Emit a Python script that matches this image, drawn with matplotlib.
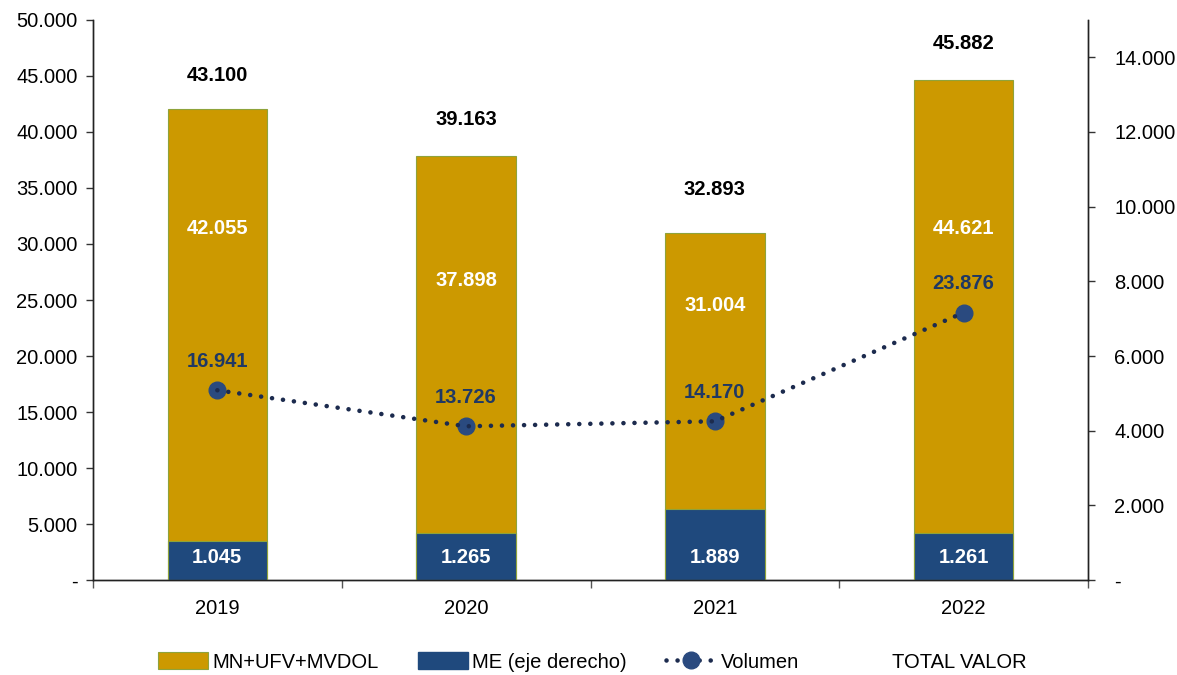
import matplotlib
matplotlib.use("Agg")
import matplotlib.pyplot as plt
from matplotlib.patches import Patch
from matplotlib.lines import Line2D
from matplotlib.ticker import FuncFormatter, FixedLocator

plt.rcParams['font.family'] = ['Liberation Sans', 'DejaVu Sans']

years = ["2019", "2020", "2021", "2022"]
mn_values = [42055, 37898, 31004, 44621]
me_values = [1045, 1265, 1889, 1261]
volume_values = [16941, 13726, 14170, 23876]
total_values = [43100, 39163, 32893, 45882]
mn_label_y = [31400, 26700, 24500, 31400]

left_ticks = list(range(0, 50001, 5000))
right_ticks = list(range(0, 14001, 2000))

MN_COLOR = "#CC9900"
ME_COLOR = "#1F497D"
VOL_LINE = "#1C2B4E"
VOL_MARK = "#2A4A7F"
VOL_TEXT = "#1F3864"
FS = 14.5

def fmt(v, pos=None):
    if v == 0:
        return "-"
    return f"{int(round(v)):,}".replace(",", ".")

fig = plt.figure(figsize=(11.77, 6.75), dpi=100)
ax = fig.add_axes([0.079, 0.1407, 0.9244 - 0.079, 0.9704 - 0.1407])
ax2 = ax.twinx()

x = list(range(len(years)))
bw = 0.40

ax.bar(x, mn_values, width=bw, color=MN_COLOR, edgecolor="#8FA33A", linewidth=0.8, zorder=2)
ax2.bar(x, me_values, width=bw, color=ME_COLOR, edgecolor="#8FA33A", linewidth=0.8, zorder=2)

DOT = (0, (0.01, 2.4))
# volume line (left axis)
ax.plot(x, volume_values, linestyle="none", marker="o", markersize=12,
        color=VOL_MARK, zorder=4)
ax.plot(x, volume_values, linestyle=DOT, linewidth=3.3,
        dash_capstyle="round", color=VOL_LINE, zorder=5)

# invisible total series
ax.plot(x, total_values, linestyle="none", marker=None)

ax.set_xlim(-0.5, 3.5)
ax.set_ylim(0, 50000)
ax2.set_ylim(0, 15000)

ax.yaxis.set_major_locator(FixedLocator(left_ticks))
ax2.yaxis.set_major_locator(FixedLocator(right_ticks))
ax.yaxis.set_major_formatter(FuncFormatter(fmt))
ax2.yaxis.set_major_formatter(FuncFormatter(fmt))

ax.set_xticks(x)
ax.set_xticklabels(years)
ax.set_xticks([-0.5, 0.5, 1.5, 2.5, 3.5], minor=True)
ax.tick_params(axis="x", which="major", length=0, pad=14, labelsize=FS)
ax.tick_params(axis="x", which="minor", length=6, width=1, color="#555555")
ax.tick_params(axis="y", length=5, width=1, labelsize=FS, pad=6, color="#333333")
ax2.tick_params(axis="y", length=5, width=1, labelsize=FS, pad=14, color="#333333")

for a in (ax, ax2):
    a.spines["top"].set_visible(False)
    for s in ("left", "right", "bottom"):
        a.spines[s].set_color("#222222")
        a.spines[s].set_linewidth(1)

# labels
for i in x:
    ax.annotate(fmt(total_values[i]), (i, total_values[i]), xytext=(0, 16),
                textcoords="offset points", ha="center", va="center",
                fontsize=FS, fontweight="bold", color="black", zorder=6)
    ax.text(i, mn_label_y[i], fmt(mn_values[i]), ha="center", va="center",
            fontsize=FS, fontweight="bold", color="white", zorder=6)
    ax2.text(i, 590, fmt(me_values[i]), ha="center", va="center",
             fontsize=FS, fontweight="bold", color="white", zorder=6)
    ax2.annotate(fmt(volume_values[i]), (i, volume_values[i] * 15000 / 50000),
                 xytext=(0, 21), textcoords="offset points", ha="center", va="center",
                 fontsize=FS, fontweight="bold", color=VOL_TEXT, zorder=7)

handles = [
    Patch(facecolor=MN_COLOR, edgecolor="#8FA33A", linewidth=0.8),
    Patch(facecolor=ME_COLOR, edgecolor=ME_COLOR),
    Line2D([0], [0], color=VOL_LINE, linestyle=DOT, linewidth=3.3,
           dash_capstyle="round", marker="o", markersize=12, markerfacecolor=VOL_MARK,
           markeredgecolor=VOL_MARK),
    Line2D([0], [0], linestyle="none"),
]
labels = ["MN+UFV+MVDOL", "ME (eje derecho)", "Volumen", "TOTAL VALOR"]
fig.legend(handles, labels, loc="center", bbox_to_anchor=(0.5034, 1 - 662 / 675),
           ncol=4, frameon=False, fontsize=FS, handlelength=2.5, handleheight=0.9,
           handletextpad=0.2, columnspacing=1.95)

fig.savefig("out.png", dpi=100)
